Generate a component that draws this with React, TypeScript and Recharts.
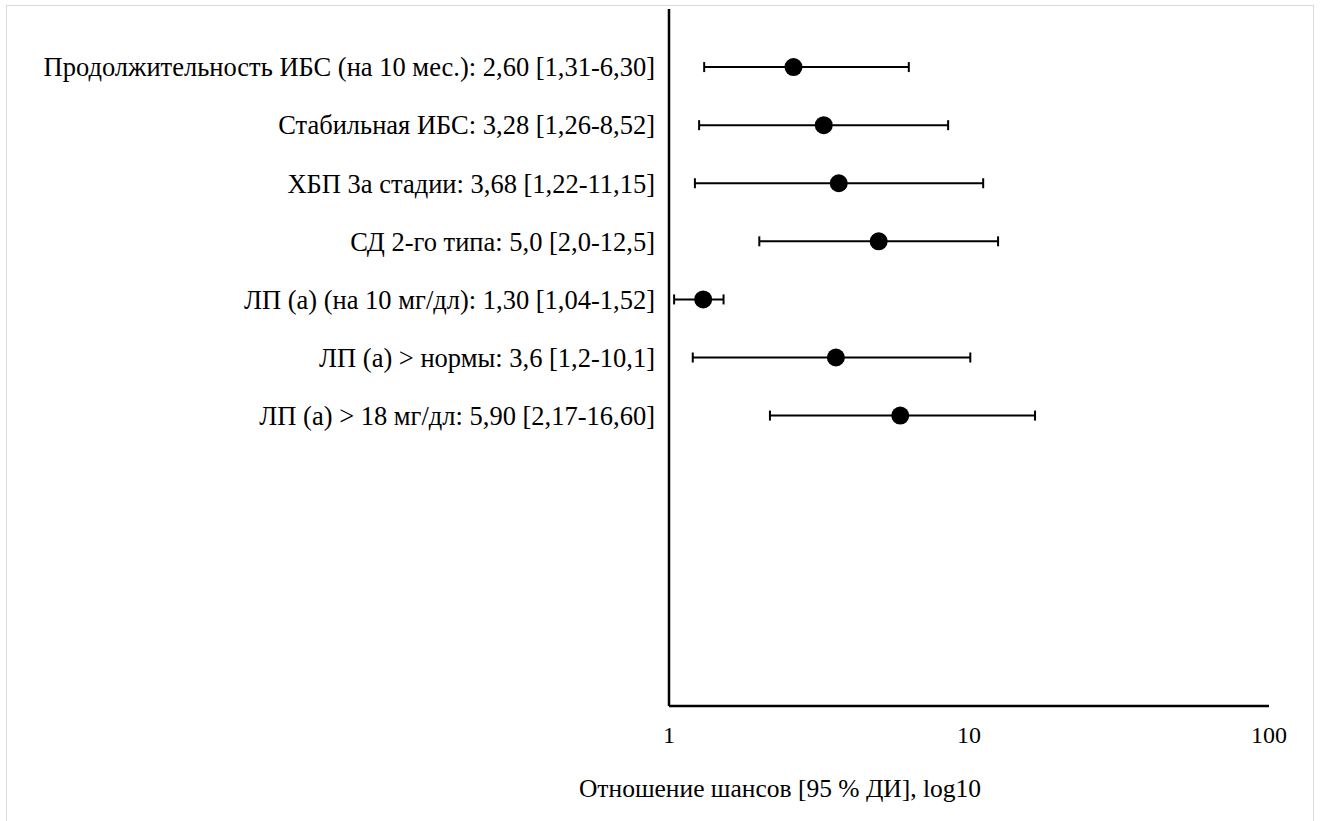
import { ScatterChart, Scatter, XAxis, YAxis, ErrorBar } from 'recharts'

// Отношение шансов с 95% ДИ
const labels = [
  'Продолжительность ИБС (на 10 мес.): 2,60 [1,31-6,30]',
  'Стабильная ИБС: 3,28 [1,26-8,52]',
  'ХБП 3а стадии: 3,68 [1,22-11,15]',
  'СД 2-го типа: 5,0 [2,0-12,5]',
  'ЛП (а) (на 10 мг/дл): 1,30 [1,04-1,52]',
  'ЛП (а) > нормы: 3,6 [1,2-10,1]',
  'ЛП (а) > 18 мг/дл: 5,90 [2,17-16,60]',
]
const estimates = [2.6, 3.28, 3.68, 5.0, 1.3, 3.6, 5.9]
const lower = [1.31, 1.26, 1.22, 2.0, 1.04, 1.2, 2.17]
const upper = [6.3, 8.52, 11.15, 12.5, 1.52, 10.1, 16.6]
const rows = [1, 2, 3, 4, 5, 6, 7]
const xTicks = [1, 10, 100]
const xTitle = 'Отношение шансов [95 % ДИ], log10'

const FONT = '"Liberation Serif", "Times New Roman", serif'

const data = rows.map((row, i) => ({
  row,
  or: estimates[i],
  err: [estimates[i] - lower[i], upper[i] - estimates[i]],
}))

function YTick(props: any) {
  const { x, y, payload } = props
  return (
    <text x={x - 2} y={y} dy="0.35em" textAnchor="end" fontFamily={FONT} fontSize={26.5} fill="#000">
      {labels[payload.value - 1]}
    </text>
  )
}

function XTick(props: any) {
  const { x, y, payload } = props
  return (
    <text x={x} y={y} dy="0.35em" textAnchor="middle" fontFamily={FONT} fontSize={24} fill="#000">
      {payload.value}
    </text>
  )
}

function XTitle(props: any) {
  const { viewBox } = props
  return (
    <text
      x={viewBox.x + 111}
      y={viewBox.y + 82}
      dy="0.35em"
      textAnchor="middle"
      fontFamily={FONT}
      fontSize={25.5}
      fill="#000"
    >
      {xTitle}
    </text>
  )
}

export default function App() {
  return (
    <div
      style={{
        position: 'absolute',
        left: 6,
        top: 5,
        width: 1306,
        height: 840,
        border: '1px solid #d9d9d9',
        background: '#fff',
      }}
    >
      <ScatterChart width={1306} height={815} margin={{ top: 3, right: 44, left: 0, bottom: 0 }}>
        <XAxis
          type="number"
          dataKey="or"
          scale="log"
          domain={[1, 100]}
          ticks={xTicks}
          allowDataOverflow
          height={115}
          axisLine={{ stroke: '#000', strokeWidth: 2.5 }}
          tickLine={false}
          tickSize={0}
          tickMargin={29}
          tick={<XTick />}
          label={<XTitle />}
        />
        <YAxis
          type="number"
          dataKey="row"
          domain={[0, 12]}
          reversed
          ticks={rows}
          interval={0}
          width={662}
          axisLine={{ stroke: '#000', strokeWidth: 2.5 }}
          tickLine={false}
          tickSize={0}
          tickMargin={12}
          tick={<YTick />}
        />
        <Scatter
          data={data}
          isAnimationActive={false}
          shape={(p: any) => <circle cx={p.cx} cy={p.cy} r={9} fill="#000" />}
        >
          <ErrorBar dataKey="err" direction="x" width={5} strokeWidth={2} stroke="#000" />
        </Scatter>
      </ScatterChart>
    </div>
  )
}
